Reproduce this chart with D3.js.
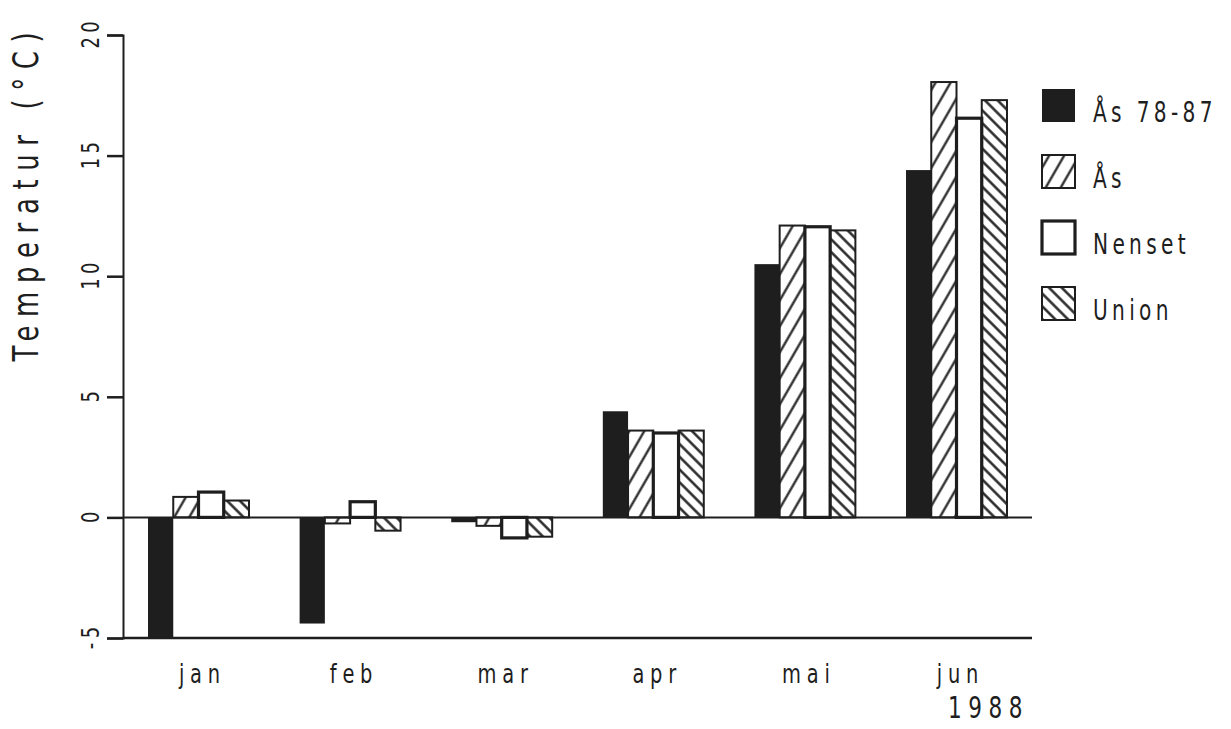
<!DOCTYPE html>
<html>
<head>
<meta charset="utf-8">
<script src="https://cdn.jsdelivr.net/npm/d3@7"></script>
<style>
    body { margin: 0; background: #fff; }
    text { font-family: "DejaVu Sans", sans-serif; fill: #1e1e1e; }
</style>
</head>
<body>
<div id="chart"></div>
<script>
    // data
    let months = ["jan", "feb", "mar", "apr", "mai", "jun"];
    let series = ["Ås 78-87", "Ås", "Nenset", "Union"];
    let as7887 = [-5.0, -4.4, -0.2, 4.4, 10.5, 14.4];
    let as88 = [0.85, -0.25, -0.35, 3.6, 12.1, 18.05];
    let nenset = [1.05, 0.65, -0.85, 3.5, 12.05, 16.55];
    let union = [0.7, -0.55, -0.8, 3.6, 11.9, 17.3];
    let yTicks = [-5, 0, 5, 10, 15, 20];

    let values = [as7887, as88, nenset, union];
    let data = [];
    months.forEach((m, i) => {
        series.forEach((s, j) => data.push({month: m, series: s, value: values[j][i]}));
    });

    let width = 1231, height = 729;
    let ink = "#1e1e1e";
    let squeeze = 0.72;   // narrow plotter lettering

    let svg = d3.select("#chart")
        .append("svg")
        .attr("width", width)
        .attr("height", height);

    // patterns
    let defs = svg.append("defs");
    defs.append("pattern")
        .attr("id", "hatchAs")
        .attr("patternUnits", "userSpaceOnUse")
        .attr("width", 13)
        .attr("height", 13)
        .attr("patternTransform", "rotate(30)")
        .append("line")
        .attr("x1", 6.5).attr("y1", 0).attr("x2", 6.5).attr("y2", 13)
        .attr("stroke", ink)
        .attr("stroke-width", 2.2);
    defs.append("pattern")
        .attr("id", "hatchUnion")
        .attr("patternUnits", "userSpaceOnUse")
        .attr("width", 9)
        .attr("height", 9)
        .attr("patternTransform", "rotate(-45)")
        .append("line")
        .attr("x1", 4.5).attr("y1", 0).attr("x2", 4.5).attr("y2", 9)
        .attr("stroke", ink)
        .attr("stroke-width", 2.4);

    let fills = {"Ås 78-87": ink, "Ås": "url(#hatchAs)", "Nenset": "#fff", "Union": "url(#hatchUnion)"};
    let strokeW = {"Ås 78-87": 0, "Ås": 2, "Nenset": 3.2, "Union": 2};

    // scales
    let x = d3.scaleBand()
        .domain(months)
        .range([123, 1032])
        .paddingInner(0.334)
        .paddingOuter(0.165);
    let xSub = d3.scaleBand()
        .domain(series)
        .range([0, x.bandwidth()]);
    let y = d3.scaleLinear()
        .domain([-5, 20])
        .range([638, 35]);

    // bars
    svg.selectAll(".bar")
        .data(data)
        .join("rect")
        .attr("class", "bar")
        .attr("x", d => x(d.month) + xSub(d.series))
        .attr("y", d => y(Math.max(0, d.value)))
        .attr("width", xSub.bandwidth())
        .attr("height", d => Math.abs(y(d.value) - y(0)))
        .style("fill", d => fills[d.series])
        .style("stroke", d => d.series == "Ås 78-87" ? "none" : ink)
        .style("stroke-width", d => strokeW[d.series]);

    // y axis
    let yAxis = svg.append("g")
        .attr("transform", "translate(123, 0)")
        .call(d3.axisLeft(y).tickValues(yTicks).tickSize(16).tickFormat(""));
    yAxis.select(".domain").attr("stroke", ink).attr("stroke-width", 2);
    yAxis.selectAll(".tick line").attr("stroke", ink).attr("stroke-width", 2.5);

    svg.selectAll(".tick-label")
        .data(yTicks)
        .join("text")
        .attr("class", "tick-label")
        .attr("text-anchor", "middle")
        .attr("transform", d => `translate(99, ${y(d)}) rotate(-90) scale(${squeeze}, 1)`)
        .style("font-size", "25px")
        .style("letter-spacing", "6px")
        .attr("dx", 3)
        .text(d => d);

    // zero line and bottom line
    svg.append("line")
        .attr("x1", 123).attr("x2", 1032)
        .attr("y1", y(0)).attr("y2", y(0))
        .attr("stroke", ink).attr("stroke-width", 2);
    svg.append("line")
        .attr("x1", 123).attr("x2", 1032)
        .attr("y1", y(-5)).attr("y2", y(-5))
        .attr("stroke", ink).attr("stroke-width", 2.5);

    // month labels
    svg.selectAll(".month")
        .data(months)
        .join("text")
        .attr("class", "month")
        .attr("text-anchor", "middle")
        .attr("transform", d => `translate(${x(d) + x.bandwidth() / 2 + 1}, 683) scale(${squeeze}, 1)`)
        .style("font-size", "27px")
        .style("letter-spacing", "8px")
        .attr("dx", 4)
        .text(d => d);

    svg.append("text")
        .attr("transform", `translate(948, 718) scale(${squeeze}, 1)`)
        .style("font-size", "30px")
        .style("letter-spacing", "9px")
        .text("1988");

    // y title
    svg.append("text")
        .attr("transform", `translate(38, 197) rotate(-90) scale(${squeeze}, 1)`)
        .attr("text-anchor", "middle")
        .style("font-size", "36px")
        .style("letter-spacing", "12px")
        .attr("dx", 6)
        .text("Temperatur (°C)");

    // legend
    let legend = svg.selectAll(".legendItem")
        .data(series)
        .join("g")
        .attr("class", "legendItem")
        .attr("transform", (d, i) => `translate(1042, ${89 + i * 66})`);
    legend.append("rect")
        .attr("width", 33)
        .attr("height", 33)
        .style("fill", d => fills[d])
        .style("stroke", d => d == "Ås 78-87" ? "none" : ink)
        .style("stroke-width", d => d == "Nenset" ? 3.2 : 2);
    legend.append("text")
        .attr("class", "legend")
        .attr("transform", `translate(51, 33) scale(${squeeze}, 1)`)
        .style("font-size", "28px")
        .style("letter-spacing", "6px")
        .text(d => d);
</script>
</body>
</html>
